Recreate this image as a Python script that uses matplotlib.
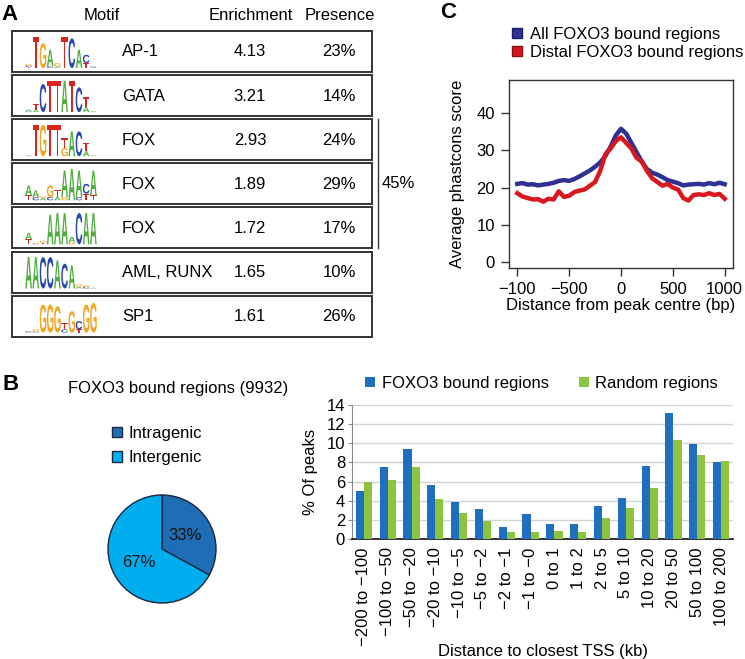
import matplotlib
matplotlib.use("Agg")
import matplotlib.pyplot as plt
from matplotlib.textpath import TextPath
from matplotlib.font_manager import FontProperties
from matplotlib.patches import PathPatch, Rectangle
from matplotlib.transforms import Affine2D
from matplotlib.lines import Line2D

plt.rcParams['font.family'] = ['Liberation Sans', 'DejaVu Sans']
plt.rcParams['font.size'] = 12

# ============================================
# DATA - panel A (motifs)
# ============================================
motif_names = ['AP-1', 'GATA', 'FOX', 'FOX', 'FOX', 'AML, RUNX', 'SP1']
enrichment = [4.13, 3.21, 2.93, 1.89, 1.72, 1.65, 1.61]
presence = [23, 14, 24, 29, 17, 10, 26]
fox_total = 45

# sequence logos: one stack per position, (letter, bits) from bottom to top
logo_ap1 = [[('T', 0.05), ('C', 0.08), ('G', 0.12)], [('T', 1.9)], [('G', 1.5)],
            [('C', 0.1), ('A', 1.0)], [('A', 0.1), ('G', 0.2)], [('T', 1.9)],
            [('C', 1.8)], [('A', 1.1)], [('T', 0.3), ('C', 0.5)], [('A', 0.05), ('C', 0.05)]]
logo_gata = [[('C', 0.05), ('A', 0.1)], [('A', 0.12), ('T', 0.35)], [('C', 1.7)],
             [('T', 1.9)], [('T', 1.9)], [('A', 1.9)], [('T', 1.9)], [('C', 1.5)],
             [('A', 0.3), ('T', 0.6)], [('A', 0.05)]]
logo_fox1 = [[('A', 0.05)], [('T', 1.9)], [('G', 1.9)], [('T', 1.9)], [('T', 1.9)],
             [('G', 0.5), ('T', 0.6)], [('A', 1.5)], [('C', 1.5)],
             [('A', 0.3), ('T', 0.5)], [('A', 0.05)]]
logo_fox2 = [[('T', 0.3), ('A', 0.6)], [('C', 0.2), ('A', 0.4)], [('A', 0.15), ('G', 0.1)],
             [('C', 0.2), ('G', 0.7)], [('A', 0.2), ('T', 0.45)], [('G', 0.2), ('A', 1.6)],
             [('A', 1.9)], [('C', 0.2), ('A', 1.6)], [('T', 0.4), ('C', 0.6)],
             [('T', 0.3), ('A', 1.5)]]
logo_fox3 = [[('T', 0.3), ('A', 0.4)], [('C', 0.05), ('G', 0.05)], [('T', 0.1), ('G', 0.12)],
             [('A', 1.8)], [('A', 1.9)], [('A', 1.9)], [('G', 0.15), ('A', 0.3)],
             [('C', 1.9)], [('A', 1.9)], [('A', 1.9)]]
logo_aml = [[('A', 1.9)], [('A', 1.9)], [('C', 1.9)], [('C', 1.9)], [('A', 1.7)],
            [('C', 1.5)], [('A', 1.4)], [('A', 0.1), ('G', 0.15)], [('C', 0.1), ('G', 0.1)],
            [('A', 0.05)]]
logo_sp1 = [[('A', 0.05), ('C', 0.05)], [('C', 0.05), ('G', 0.15)], [('G', 1.7)],
            [('G', 1.7)], [('G', 1.6)], [('C', 0.2), ('T', 0.4)], [('G', 1.3)],
            [('T', 0.2), ('C', 0.5)], [('G', 1.7)], [('G', 1.8)]]
logos = [logo_ap1, logo_gata, logo_fox1, logo_fox2, logo_fox3, logo_aml, logo_sp1]
letter_colors = {'A': '#4fae3e', 'C': '#2a47ad', 'G': '#f1a520', 'T': '#d8261f'}

# ============================================
# DATA - panel B
# ============================================
pie_labels = ['Intragenic', 'Intergenic']
pie_values = [33, 67]
n_regions = 9932

tss_bins = ['−200 to −100', '−100 to −50', '−50 to −20', '−20 to −10', '−10 to −5',
            '−5 to −2', '−2 to −1', '−1 to −0', '0 to 1', '1 to 2', '2 to 5',
            '5 to 10', '10 to 20', '20 to 50', '50 to 100', '100 to 200']
foxo3_pct = [5.0, 7.5, 9.4, 5.6, 3.9, 3.1, 1.3, 2.6, 1.6, 1.6, 3.4, 4.3, 7.6, 13.2, 9.9, 8.0]
random_pct = [6.0, 6.2, 7.5, 4.2, 2.7, 1.9, 0.7, 0.7, 0.8, 0.7, 2.2, 3.2, 5.3, 10.3, 8.8, 8.2]

# ============================================
# DATA - panel C
# ============================================
dist_bp = [-1000, -950, -900, -850, -800, -750, -700, -650, -600, -550, -500,
           -450, -400, -350, -300, -250, -200, -150, -100, -50, 0,
           50, 100, 150, 200, 250, 300, 350, 400, 450, 500,
           550, 600, 650, 700, 750, 800, 850, 900, 950, 1000]
all_score = [21.0, 21.2, 20.8, 20.9, 20.6, 20.8, 21.0, 21.3, 21.8, 22.0, 21.8,
             22.3, 23.0, 23.8, 24.6, 25.6, 26.8, 28.5, 31.0, 34.0, 35.8,
             34.5, 32.0, 29.5, 27.0, 25.0, 24.0, 23.5, 22.8, 22.0, 21.6,
             21.2, 20.6, 20.8, 20.9, 21.0, 20.8, 21.2, 20.9, 21.3, 20.9]
distal_score = [18.5, 17.6, 17.2, 16.8, 16.9, 16.2, 17.0, 16.8, 19.0, 17.5, 17.8,
                18.8, 19.2, 19.5, 20.5, 21.5, 24.5, 29.0, 30.5, 32.5, 33.5,
                32.0, 30.5, 28.0, 27.0, 24.5, 22.5, 21.5, 20.5, 21.0, 20.0,
                19.5, 17.2, 16.5, 18.0, 18.2, 18.0, 18.5, 18.0, 18.3, 17.0]

W, H = 745, 659
fig = plt.figure(figsize=(W / 100, H / 100), dpi=100)


def rect(left, top, width, height):
    # pixel box -> figure fraction
    return [left / W, 1 - (top + height) / H, width / W, height / H]


# overlay in pixel units for panel A and panel letters
ov = fig.add_axes([0, 0, 1, 1])
ov.set_xlim(0, W)
ov.set_ylim(H, 0)
ov.axis('off')

for lab, x, y in [('A', 1, 14), ('B', 3, 385), ('C', 440, 12)]:
    ov.text(x, y, lab, fontsize=16, fontweight='bold', ha='left', va='center')

# ============================================
# PANEL A
# ============================================
ov.text(102, 15, 'Motif', ha='center', va='center', fontsize=12)
ov.text(251, 15, 'Enrichment', ha='center', va='center', fontsize=12)
ov.text(340, 15, 'Presence', ha='center', va='center', fontsize=12)

fp_logo = FontProperties(family='Liberation Sans', weight='bold')


def draw_letter(ax, ch, x, y_base, w, h, color):
    tp = TextPath((0, 0), ch, size=1, prop=fp_logo)
    bb = tp.get_extents()
    tr = (Affine2D().translate(-bb.x0, -bb.y0)
          .scale(w / bb.width, -h / bb.height).translate(x, y_base))
    ax.add_patch(PathPatch(tr.transform_path(tp), fc=color, ec='none'))


row_tops = []
for i in range(len(motif_names)):
    top = 31 + i * 44.1
    row_tops.append(top)
    ov.add_patch(Rectangle((12, top), 360, 41, fill=False, ec='#333333', lw=1.4))
    yc = top + 21
    ov.text(122, yc, motif_names[i], ha='left', va='center', fontsize=12)
    ov.text(250, yc, f'{enrichment[i]:.2f}', ha='center', va='center', fontsize=12)
    ov.text(356, yc, f'{presence[i]}%', ha='right', va='center', fontsize=12)
    # logo
    base = top + 37
    pos_w = 7.2
    for j, stack in enumerate(logos[i]):
        y = base
        for ch, bits in stack:
            h = bits * 16.5
            draw_letter(ov, ch, 25 + j * pos_w + 0.3, y, pos_w - 0.6, h, letter_colors[ch])
            y -= h

# bracket for the three FOX motifs
ov.plot([378, 378], [row_tops[2], row_tops[4] + 41], color='#333333', lw=1)
ov.text(382, (row_tops[2] + row_tops[4] + 41) / 2, f'{fox_total}%',
        ha='left', va='center', fontsize=12)

# ============================================
# PANEL C
# ============================================
axc = fig.add_axes(rect(509, 80, 224, 188))
axc.plot(dist_bp, all_score, color='#2e3192', lw=3.2, solid_joinstyle='round')
axc.plot(dist_bp, distal_score, color='#d7191f', lw=3.2, solid_joinstyle='round')
axc.set_xlim(-1080, 1080)
axc.set_ylim(-1.6, 48.9)
axc.set_xticks([-1000, -500, 0, 500, 1000])
axc.set_xticklabels(['−100', '−500', '0', '500', '1000'])
axc.set_yticks([0, 10, 20, 30, 40])
axc.tick_params(direction='out', length=6, width=1, color='#333333',
                labelsize=12, pad=4)
for s in axc.spines.values():
    s.set_color('#333333')
    s.set_linewidth(1)
axc.set_xlabel('Distance from peak centre (bp)', fontsize=12)
axc.xaxis.set_label_coords(0.5, -0.16)
axc.set_ylabel('Average phastcons score', fontsize=12)
axc.yaxis.set_label_coords(-0.195, 0.5)

hc = [Line2D([], [], marker='s', ls='none', ms=7, mfc='#2e3192', mec='#1c1f66'),
      Line2D([], [], marker='s', ls='none', ms=7, mfc='#d7191f', mec='#8a1014')]
axc.legend(hc, ['All FOXO3 bound regions', 'Distal FOXO3 bound regions'],
           loc='upper left', bbox_to_anchor=(510 / W, 1 - 27 / H),
           bbox_transform=fig.transFigure, frameon=False, fontsize=12,
           handlelength=0.8, handletextpad=0.4, labelspacing=0.15,
           borderpad=0, borderaxespad=0)

# ============================================
# PANEL B - pie
# ============================================
ov.text(68, 388, f'FOXO3 bound regions ({n_regions})', ha='left', va='center', fontsize=12)

axp = fig.add_axes(rect(162 - 67.5, 549 - 67.5, 135, 135))
pie_colors = ['#1f6db5', '#00aeef']
wedges, _, autotexts = axp.pie(pie_values, colors=pie_colors, startangle=90,
                               counterclock=False, autopct='%d%%', pctdistance=0.5,
                               wedgeprops=dict(edgecolor='#1a2540', linewidth=1))
for t in autotexts:
    t.set_fontsize(12)
    t.set_color('#111111')
axp.legend(wedges, pie_labels, loc='upper left',
           bbox_to_anchor=(112 / W, 1 - 426 / H), bbox_transform=fig.transFigure,
           frameon=False, fontsize=12, handlelength=0.6, handleheight=0.6,
           handletextpad=0.4, labelspacing=0.55, borderpad=0, borderaxespad=0)

# ============================================
# PANEL B - bars
# ============================================
axb = fig.add_axes(rect(352, 405, 381, 134))
x = list(range(len(tss_bins)))
bw = 0.34
bars1 = axb.bar([i - bw / 2 for i in x], foxo3_pct, width=bw, color='#1f6fc0',
                label='FOXO3 bound regions', zorder=3)
bars2 = axb.bar([i + bw / 2 for i in x], random_pct, width=bw, color='#8cc43f',
                label='Random regions', zorder=3)
axb.set_xlim(-0.5, len(tss_bins) - 0.5)
axb.set_ylim(0, 14)
axb.set_yticks(range(0, 15, 2))
axb.yaxis.grid(True, color='#d4d4d4', lw=1, zorder=0)
axb.set_axisbelow(True)
axb.set_xticks(x)
axb.set_xticklabels(tss_bins, rotation=90, fontsize=12)
axb.tick_params(axis='x', length=0, pad=6)
axb.tick_params(axis='y', length=3, color='#888888', labelsize=12, pad=2)
axb.spines['top'].set_visible(False)
axb.spines['right'].set_visible(False)
axb.spines['left'].set_color('#888888')
axb.spines['bottom'].set_color('#222222')
axb.spines['bottom'].set_linewidth(1.3)
axb.set_ylabel('% Of peaks', fontsize=12)
axb.yaxis.set_label_coords(-0.09, 0.5)
axb.set_xlabel('Distance to closest TSS (kb)', fontsize=12)
axb.xaxis.set_label_coords(0.5, -0.78)
axb.legend(loc='upper left', bbox_to_anchor=(365 / W, 1 - 376 / H),
           bbox_transform=fig.transFigure, ncol=2, frameon=False, fontsize=12,
           handlelength=0.6, handleheight=0.6, handletextpad=0.4,
           columnspacing=1.8, borderpad=0, borderaxespad=0)

fig.savefig('out.png', dpi=100)
